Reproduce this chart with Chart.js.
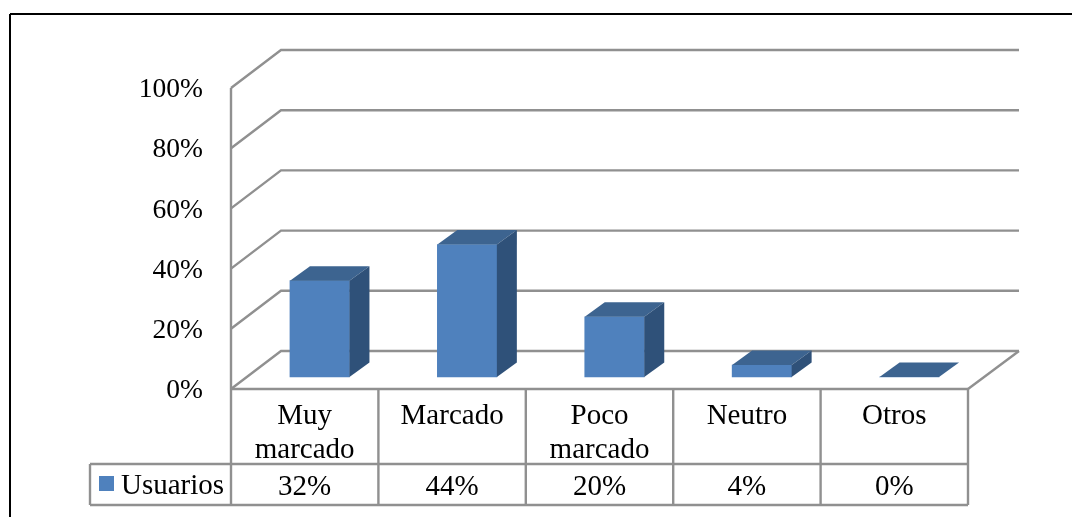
<!DOCTYPE html>
<html>
<head>
<meta charset="utf-8">
<style>
    html, body { margin: 0; padding: 0; background: #fff; overflow: hidden; }
    canvas { display: block; }
</style>
<script src="https://cdn.jsdelivr.net/npm/chart.js@4"></script>
</head>
<body>
<canvas id="grafico" width="1072" height="517"></canvas>
<script>
const categorias = [["Muy", "marcado"], "Marcado", ["Poco", "marcado"], "Neutro", "Otros"];
const usuarios = [32, 44, 20, 4, 0];
const serieNombre = "Usuarios";
const marcas = [0, 20, 40, 60, 80, 100];

const FUENTE = "'Liberation Serif', 'Times New Roman', serif";
const TAM = 29;
const GRIS = "#909090";
const AZUL = "#4f81bd";
const AZUL_LADO = "#2f5179";
const AZUL_TAPA = "#3d6490";

function linea(ctx, x1, y1, x2, y2) {
    ctx.beginPath();
    ctx.moveTo(x1, y1);
    ctx.lineTo(x2, y2);
    ctx.stroke();
}

function poligono(ctx, pts, color) {
    ctx.fillStyle = color;
    ctx.beginPath();
    ctx.moveTo(pts[0][0], pts[0][1]);
    pts.slice(1).forEach(p => ctx.lineTo(p[0], p[1]));
    ctx.closePath();
    ctx.fill();
}

// paredes 3D, barras y tabla de datos
const plugin3d = {
    id: "plugin3d",
    beforeDatasetsDraw(chart) {
        const { ctx, scales, chartArea } = chart;
        const fondoX = 50, fondoY = 38;

        ctx.save();
        ctx.strokeStyle = GRIS;
        ctx.lineWidth = 2.4;
        marcas.forEach(m => {
            const y = scales.y.getPixelForValue(m);
            ctx.beginPath();
            ctx.moveTo(chartArea.left, y);
            ctx.lineTo(chartArea.left + fondoX, y - fondoY);
            ctx.lineTo(chartArea.left + fondoX + 738, y - fondoY);
            ctx.stroke();
        });
        linea(ctx, chartArea.left, chartArea.top, chartArea.left, chartArea.bottom);
        linea(ctx, chartArea.right, chartArea.bottom, chartArea.right + 51, chartArea.bottom - fondoY);
        ctx.restore();

        // las barras van sobre el piso, un poco hacia atras
        ctx.save();
        ctx.translate(15, -12);
    },
    afterDatasetsDraw(chart) {
        const { ctx } = chart;
        const px = 20, py = 14.5;

        chart.getDatasetMeta(0).data.forEach(b => {
            const izq = b.x - b.width / 2, der = b.x + b.width / 2;
            poligono(ctx, [[izq, b.y], [der, b.y], [der + px, b.y - py], [izq + px, b.y - py]], AZUL_TAPA);
            poligono(ctx, [[der, b.y], [der + px, b.y - py], [der + px, b.base - py], [der, b.base]], AZUL_LADO);
        });
        ctx.restore();
    },
    afterDraw(chart) {
        const { ctx, scales, chartArea } = chart;
        const fila1 = 464, fila2 = 505, leyendaX = 90;
        const paso = (chartArea.right - chartArea.left) / categorias.length;

        ctx.save();

        // marco negro
        ctx.strokeStyle = "#000";
        ctx.lineWidth = 2;
        linea(ctx, 10, 14, 1072, 14);
        linea(ctx, 10, 14, 10, 517);

        // tabla
        ctx.strokeStyle = GRIS;
        ctx.lineWidth = 2.4;
        linea(ctx, chartArea.left, chartArea.bottom, chartArea.right, chartArea.bottom);
        linea(ctx, leyendaX, fila1, chartArea.right, fila1);
        linea(ctx, leyendaX, fila2, chartArea.right, fila2);
        linea(ctx, leyendaX, fila1, leyendaX, fila2);
        for (let i = 0; i <= categorias.length; i++) {
            const x = chartArea.left + paso * i;
            linea(ctx, x, chartArea.bottom, x, fila2);
        }

        ctx.fillStyle = "#000";
        ctx.font = TAM + "px " + FUENTE;
        ctx.textBaseline = "middle";
        ctx.textAlign = "center";
        usuarios.forEach((v, i) => {
            ctx.fillText(v + "%", scales.x.getPixelForValue(i), 487);
        });

        // leyenda
        ctx.textAlign = "left";
        ctx.fillText(serieNombre, 121, 486);
        ctx.fillStyle = AZUL;
        ctx.fillRect(99, 476, 15, 15);

        ctx.restore();
    }
};

new Chart(document.getElementById("grafico"), {
    type: "bar",
    data: {
        labels: categorias,
        datasets: [{
            label: serieNombre,
            data: usuarios,
            backgroundColor: AZUL,
            barThickness: 59.5,
            clip: false
        }]
    },
    options: {
        responsive: false,
        animation: false,
        layout: { padding: { top: 88, right: 104, bottom: 0, left: 0 } },
        plugins: { legend: { display: false }, tooltip: { enabled: false } },
        scales: {
            x: {
                afterFit(s) { s.height = 128; },
                grid: { display: false, drawTicks: false },
                border: { display: false },
                ticks: {
                    color: "#000",
                    font: { family: FUENTE, size: TAM, lineHeight: 1.18 },
                    autoSkip: false,
                    maxRotation: 0,
                    padding: 10
                }
            },
            y: {
                min: 0,
                max: 100,
                afterFit(s) { s.width = 231; },
                grid: { display: false, drawTicks: false },
                border: { display: false },
                ticks: {
                    stepSize: 20,
                    color: "#000",
                    font: { family: FUENTE, size: 27.5 },
                    padding: 28,
                    labelOffset: 2,
                    callback: v => v + "%"
                }
            }
        }
    },
    plugins: [plugin3d]
});
</script>
</body>
</html>
